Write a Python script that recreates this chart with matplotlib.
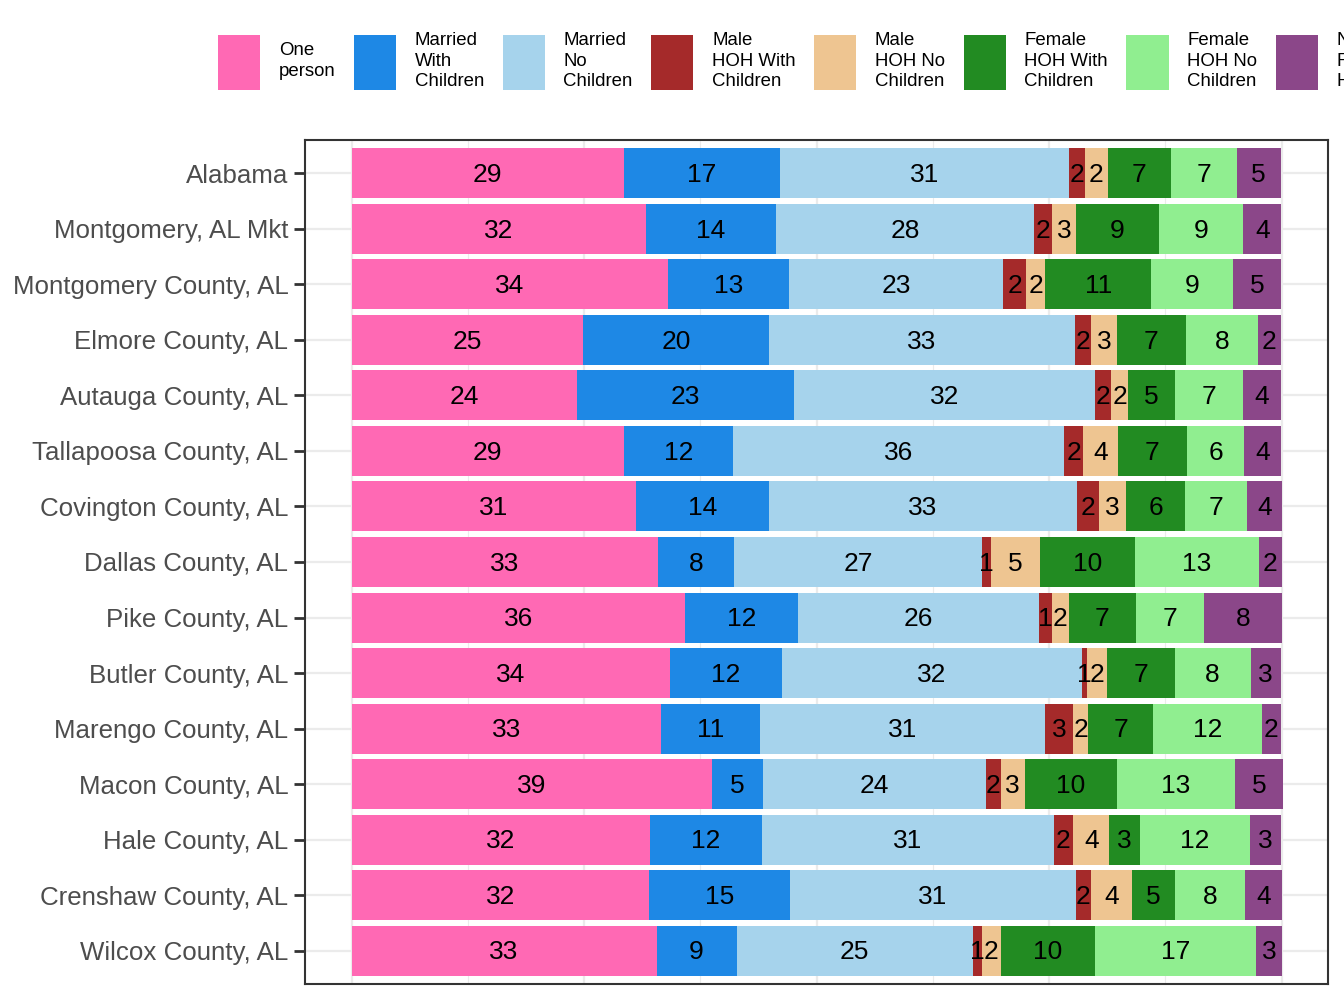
import matplotlib
matplotlib.use("Agg")
import matplotlib.pyplot as plt

plt.rcParams['font.family'] = ['Liberation Sans', 'DejaVu Sans']

regions = ["Alabama", "Montgomery, AL Mkt", "Montgomery County, AL", "Elmore County, AL",
           "Autauga County, AL", "Tallapoosa County, AL", "Covington County, AL",
           "Dallas County, AL", "Pike County, AL", "Butler County, AL", "Marengo County, AL",
           "Macon County, AL", "Hale County, AL", "Crenshaw County, AL", "Wilcox County, AL"]

one_person        = [29.3, 31.7, 34.0, 24.9, 24.2, 29.3, 30.6, 33.0, 35.9, 34.2, 33.3, 38.8, 32.1, 32.0, 32.8]
married_children  = [16.8, 13.9, 13.0, 20.0, 23.4, 11.7, 14.3,  8.1, 12.1, 12.1, 10.6,  5.4, 12.0, 15.1,  8.6]
married_no_child  = [31.0, 27.8, 23.1, 32.9, 32.3, 35.6, 33.1, 26.7, 25.9, 32.2, 30.7, 24.0, 31.4, 30.8, 25.4]
male_children     = [ 1.8,  1.9,  2.4,  1.7,  1.8,  2.1,  2.4,  1.0,  1.4,  0.6,  3.0,  1.6,  2.1,  1.6,  1.0]
male_no_child     = [ 2.4,  2.6,  2.1,  2.8,  1.8,  3.7,  2.9,  5.2,  1.8,  2.1,  1.6,  2.6,  3.9,  4.4,  2.0]
female_children   = [ 6.8,  8.9, 11.4,  7.4,  5.0,  7.4,  6.3, 10.2,  7.3,  7.3,  7.0,  9.9,  3.3,  4.6, 10.1]
female_no_child   = [ 7.1,  9.1,  8.8,  7.8,  7.4,  6.2,  6.7, 13.4,  7.3,  8.2, 11.7, 12.7, 11.8,  7.6, 17.4]
non_family        = [ 4.7,  4.1,  5.1,  2.4,  4.0,  3.9,  3.8,  2.4,  8.3,  3.2,  2.0,  5.2,  3.3,  4.0,  2.7]

series = [one_person, married_children, married_no_child, male_children,
          male_no_child, female_children, female_no_child, non_family]
series_names = ["One\nperson", "Married\nWith\nChildren", "Married\nNo\nChildren",
                "Male\nHOH With\nChildren", "Male\nHOH No\nChildren",
                "Female\nHOH With\nChildren", "Female\nHOH No\nChildren",
                "Non\nFamily\nHouseholds"]
colors = ["#FF69B4", "#1E88E5", "#A6D3EC", "#A52A2A", "#EEC591",
          "#228B22", "#90EE90", "#8B4789"]

fig = plt.figure(figsize=(13.44, 10.08), dpi=100)
ax = fig.add_axes([305/1344, 1-984/1008, (1328-305)/1344, (984-140)/1008])

ypos = list(range(len(regions)))
left = [0.0] * len(regions)
handles = []
for vals, name, col in zip(series, series_names, colors):
    bars = ax.barh(ypos, vals, left=left, height=0.9, color=col, label=name, zorder=2)
    for y, l, v in zip(ypos, left, vals):
        ax.text(l + v / 2, y + 0.03, f"{round(v)}", ha='center', va='center',
                fontsize=19, color='black', zorder=3)
    handles.append(bars)
    left = [a + b for a, b in zip(left, vals)]

ax.set_ylim(len(regions) - 0.4, -0.6)
ax.set_xlim(-5, 105)
ax.set_yticks(ypos)
ax.set_yticklabels(regions, fontsize=18.6, color='#4D4D4D')
ax.set_xticks([0, 25, 50, 75, 100])
ax.set_xticks([12.5, 37.5, 62.5, 87.5], minor=True)
ax.tick_params(axis='x', which='both', length=0, labelbottom=False)
ax.tick_params(axis='y', length=8, width=2, color='#333333', pad=4)
ax.grid(True, which='major', color='#EBEBEB', lw=1.6, zorder=0)
ax.grid(True, which='minor', axis='x', color='#EBEBEB', lw=0.8, zorder=0)
ax.set_axisbelow(True)
for s in ax.spines.values():
    s.set_color('#333333')
    s.set_linewidth(1.5)

leg = fig.legend(handles, series_names, loc='center left',
                 bbox_to_anchor=(218/1344, 1-61/1008), ncol=8, frameon=False,
                 fontsize=13.4, handlelength=2.26, handleheight=4.2,
                 handletextpad=1.0, columnspacing=1.0, borderpad=0, borderaxespad=0)
for t in leg.get_texts():
    t.set_linespacing(1.3)

fig.savefig("out.png", dpi=100)
